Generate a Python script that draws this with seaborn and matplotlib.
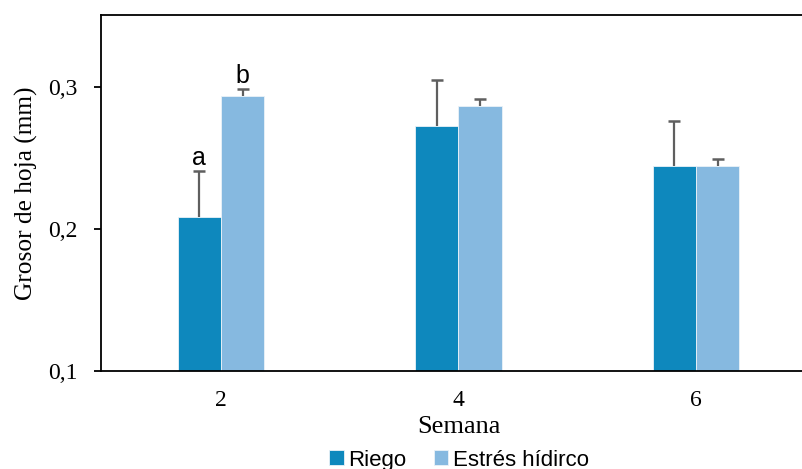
import numpy as np
import pandas as pd
import matplotlib
matplotlib.use("Agg")
import matplotlib.pyplot as plt
import seaborn as sns

semanas = ["2", "4", "6"]
tratamientos = ["Riego", "Estrés hídirco"]
riego = [0.2085, 0.2727, 0.2442]
estres = [0.2936, 0.2868, 0.2442]
riego_err = [0.032, 0.032, 0.032]
estres_err = [0.005, 0.005, 0.005]
letras_semana2 = ["a", "b"]
yticks = [0.1, 0.2, 0.3]
ytick_labels = ["0,1", "0,2", "0,3"]

colores = ["#0E88BD", "#86B9E0"]

df = pd.DataFrame({
    "Semana": semanas * 2,
    "Grosor": riego + estres,
    "Tratamiento": [tratamientos[0]] * 3 + [tratamientos[1]] * 3,
    "Error": riego_err + estres_err,
})

sns.set_style("white")
plt.rcParams["text.color"] = "black"
fig = plt.figure(figsize=(8.03, 4.69), dpi=100)
ax = fig.add_axes([101 / 803, 1 - 371 / 469, 715 / 803, 356 / 469])

sns.barplot(data=df, x="Semana", y="Grosor", hue="Tratamiento", order=semanas,
            hue_order=tratamientos, palette=colores, saturation=1, errorbar=None,
            width=0.365, edgecolor="#eaf2f8", linewidth=0.6, ax=ax,
            legend=True)

# one-sided (upper) error bars from each bar top
for cont, errs in zip(ax.containers, [riego_err, estres_err]):
    xs = np.array([p.get_x() + p.get_width() / 2 for p in cont.patches])
    hs = np.array([p.get_height() for p in cont.patches])
    tops = hs + np.array(errs)
    ax.vlines(xs, hs, tops, colors="#5f5f5f", linewidth=1.6, zorder=3)
    ax.plot(xs, tops, linestyle="none", marker="_", markersize=9,
            markeredgewidth=1.8, color="#5f5f5f", zorder=3)

# significance letters for week 2
for cont, errs, letra in zip(ax.containers, [riego_err, estres_err], letras_semana2):
    p = cont.patches[0]
    ax.text(p.get_x() + p.get_width() / 2, p.get_height() + errs[0] + 0.0008, letra,
            ha="center", va="bottom", fontsize=18, family="Liberation Sans",
            color="black")

ax.set_ylim(0.1, 0.3507)
ax.set_xlim(-0.505, 2.505)
ax.set_yticks(yticks)
ax.set_yticklabels(ytick_labels, family="Liberation Serif", fontsize=17)
ax.set_xticks(range(len(semanas)))
ax.set_xticklabels(semanas, family="Liberation Serif", fontsize=17)
ax.tick_params(axis="y", direction="out", length=5, width=1.3, pad=12, left=True,
               color="black", labelcolor="black")
ax.tick_params(axis="x", length=0, pad=14, labelcolor="black")
ax.set_ylabel("Grosor de hoja (mm)", family="Liberation Serif", fontsize=18.3,
              labelpad=7, color="black")
ax.set_xlabel("Semana", family="Liberation Serif", fontsize=19, labelpad=3,
              color="black")

for side in ["left", "top", "bottom"]:
    ax.spines[side].set_visible(True)
    ax.spines[side].set_color("black")
    ax.spines[side].set_linewidth(1.3)
ax.spines["right"].set_visible(False)

handles, labels = ax.get_legend_handles_labels()
ax.legend_.remove()
fig.legend(handles, labels, loc="center", bbox_to_anchor=(459 / 803, 1 - 460 / 469),
           ncol=2, frameon=False, prop={"family": "Liberation Sans", "size": 16},
           handlelength=0.65, handleheight=0.65, handletextpad=0.2,
           columnspacing=1.25, borderaxespad=0)

fig.savefig("out.png", dpi=100)
